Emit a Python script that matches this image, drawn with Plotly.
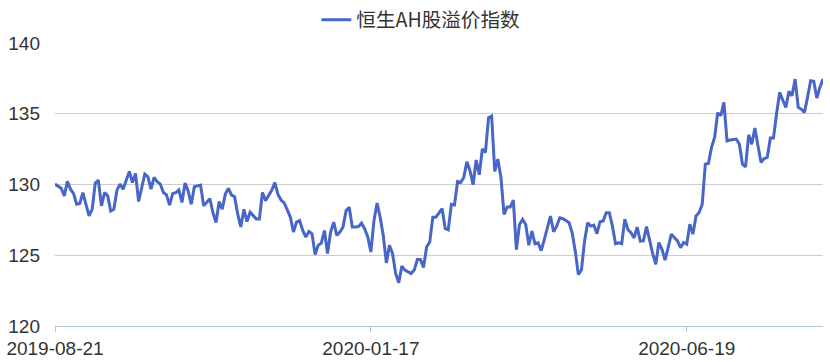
import pandas as pd
import plotly.graph_objects as go

# ---- data -------------------------------------------------------------
START_DATE = "2019-08-21"
HOLIDAYS = ["2019-10-01", "2019-10-07", "2019-12-25", "2019-12-26", "2020-01-01",
            "2020-01-24", "2020-01-27", "2020-01-28", "2020-04-06", "2020-04-10",
            "2020-04-13", "2020-04-30", "2020-05-01", "2020-06-25", "2020-07-01"]
TICK_LABELS = ["2019-08-21", "2020-01-17", "2020-06-19"]
Y_TICKS = [120, 125, 130, 135, 140]
SERIES_NAME = "恒生AH股溢价指数"

ah_part1 = [130.03, 129.91, 129.74, 129.2, 130.22, 129.67, 129.36, 128.6, 128.65, 129.43,
            128.49, 127.78, 128.25, 130.1, 130.31, 128.49, 129.43, 129.2, 128.13, 128.25,
            129.6, 130.03, 129.67, 130.38, 130.92, 130.14, 130.78, 128.8, 129.79, 130.74,
            130.55, 129.67, 130.5, 130.2, 130.03, 129.43, 129.27, 128.54, 129.36, 129.43,
            129.62, 128.73, 130.1, 129.55, 128.6, 129.84, 129.9, 129.96, 128.49, 128.73,
            129.0, 128.02, 127.31, 128.8, 128.25, 129.32, 129.72, 129.25, 129.13, 127.9,
            127.0, 128.25, 127.38]
ah_part2 = [128.04, 127.8, 127.57, 127.57, 129.44, 128.86, 129.2, 129.6, 130.14, 129.3,
            128.9, 128.7, 128.2, 127.7, 126.64, 127.34, 127.45, 126.75, 126.29, 126.68,
            126.52, 125.05, 125.7, 125.86, 126.75, 125.12, 126.64, 127.34, 126.4, 126.64,
            126.99, 128.15, 128.39, 126.99, 126.99, 127.03, 127.27, 126.87, 126.29, 125.23,
            127.45, 128.69, 127.69, 126.4, 124.46, 125.7, 125.12, 123.71, 123.06, 124.23,
            123.95, 123.83, 123.71, 123.95, 124.7, 124.7, 124.14, 125.58, 125.93, 127.69,
            127.69, 128.0, 128.3, 126.9]
ah_part3 = [126.8, 128.6, 128.55, 130.21, 130.14, 130.5, 131.61, 130.97, 129.98, 131.73,
            130.69, 132.51, 132.27, 134.72, 134.83, 130.92, 131.8, 130.5, 127.89, 128.41,
            128.41, 128.89, 125.4, 127.18, 127.54, 127.18, 125.71, 126.71, 125.81, 125.88,
            125.33, 126.11, 126.94, 127.77, 126.66, 127.06, 127.65, 127.58, 127.45, 127.3,
            126.59, 125.28, 123.63, 123.98, 125.99, 127.3, 127.06, 127.13, 126.52, 127.37,
            127.42, 128.01, 128.01, 127.06, 125.81, 125.88, 125.81, 127.54, 126.82, 126.59,
            126.23, 126.99, 125.99]
ah_part4 = [126.01, 127.03, 126.01, 125.12, 124.36, 125.9, 125.42, 124.65, 125.54, 126.49,
            126.25, 126.01, 125.54, 125.9, 125.78, 127.19, 126.49, 127.78, 128.02, 128.61,
            131.44, 131.49, 132.62, 133.33, 135.07, 134.86, 135.8, 133.09, 133.14, 133.18,
            133.21, 132.85, 131.44, 131.25, 133.51, 132.85, 133.99, 132.74, 131.56, 131.84,
            131.91, 133.28, 133.28, 134.98, 136.51, 135.97, 135.45, 136.58, 136.27, 137.45,
            135.45, 135.33, 135.09, 136.16, 137.33, 137.29, 136.11, 136.86, 137.45]

values = ah_part1 + ah_part2 + ah_part3 + ah_part4
cbd = pd.offsets.CustomBusinessDay(holidays=HOLIDAYS)
dates = pd.date_range(START_DATE, periods=len(values), freq=cbd).strftime("%Y-%m-%d").tolist()

# ---- figure -----------------------------------------------------------
AXIS_BLUE = "#b4c6dc"
TEXT = "#333333"
TICK_FONT = dict(family="Liberation Sans, Arial, sans-serif", size=19, color=TEXT)

fig = go.Figure()
fig.add_trace(go.Scatter(
    x=dates, y=values, mode="lines", name=SERIES_NAME,
    line=dict(color="#4866c8", width=3),
))

fig.update_layout(
    width=830, height=362,
    margin=dict(l=55, r=7, t=43, b=36, pad=0, autoexpand=False),
    paper_bgcolor="white", plot_bgcolor="white",
    showlegend=True,
    legend=dict(
        orientation="h", xref="container", yref="container",
        x=0.507, xanchor="center", y=0.945, yanchor="middle",
        font=dict(family="Noto Sans CJK SC, sans-serif", size=19.6, color=TEXT),
        bgcolor="rgba(0,0,0,0)", itemwidth=30,
    ),
    xaxis=dict(
        type="category", range=[0, len(values) - 1],
        tickmode="array", tickvals=TICK_LABELS, ticktext=TICK_LABELS,
        showline=True, linecolor=AXIS_BLUE, linewidth=1,
        ticks="outside", ticklen=5, tickcolor=AXIS_BLUE, tickwidth=1,
        showgrid=False, zeroline=False, tickfont=TICK_FONT,
    ),
    yaxis=dict(
        range=[120, 140], tickmode="array", tickvals=Y_TICKS,
        showgrid=True, gridcolor="#cccccc", gridwidth=1,
        zeroline=False, showline=False, ticks="",
        tickfont=TICK_FONT, ticklabelstandoff=14,
    ),
)

fig.write_html("out.html")
